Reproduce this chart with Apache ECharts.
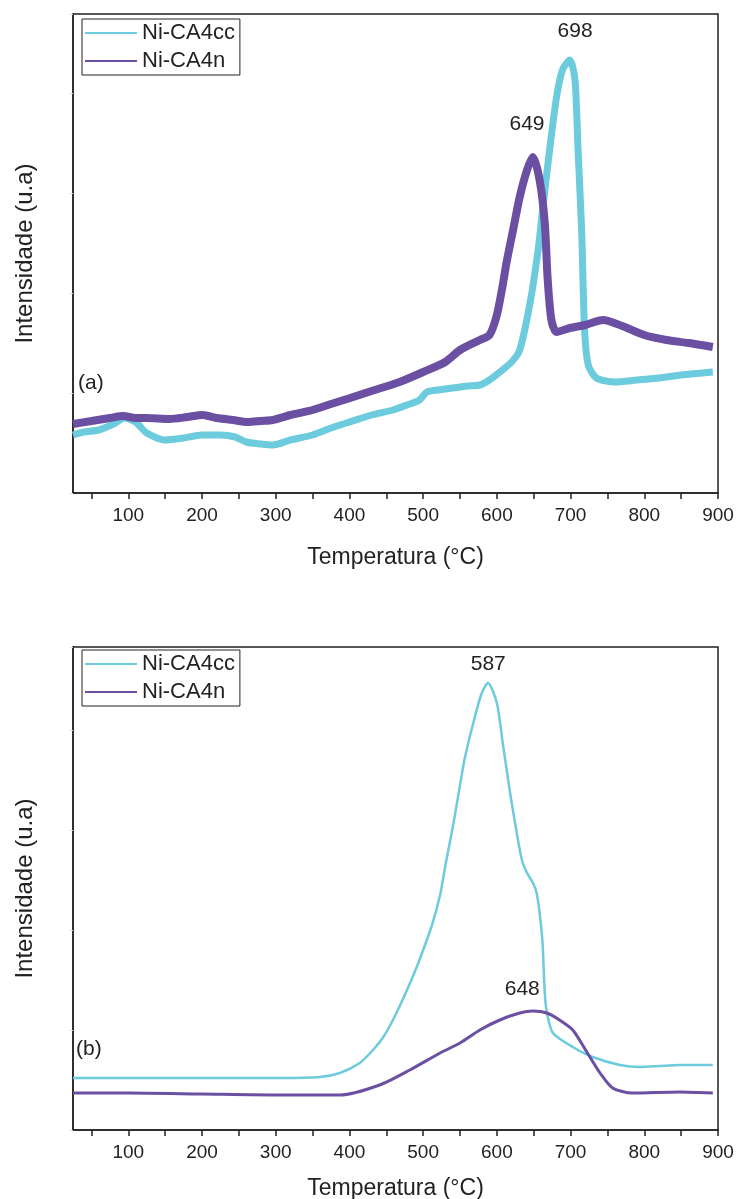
<!DOCTYPE html>
<html>
<head>
<meta charset="utf-8">
<script src="https://cdn.jsdelivr.net/npm/echarts@6/dist/echarts.min.js"></script>
<style>
html,body{margin:0;padding:0;background:#fff;}
#chart{width:737px;height:1199px;}
</style>
</head>
<body>
<div id="chart"></div>
<script>
// ---------- DATA (arbitrary intensity units) ----------
const seriesNames = ['Ni-CA4cc', 'Ni-CA4n'];
const xTickLabels = [100, 200, 300, 400, 500, 600, 700, 800, 900];
const xMinorTicks = [50, 150, 250, 350, 450, 550, 650, 750, 850];

// panel (a)
const aCC = [[25,58],[40,61],[60,63],[80,69],[95,75],[110,71],[125,60],[150,53],[175,55],[200,58],[225,58],[245,56],[260,51],[280,49],[296,48],[320,53],[350,58],[375,65],[400,71],[430,78],[459,83],[478,88],[495,93],[505,101],[520,103],[540,105],[560,107],[577,108],[590,113],[604,121],[620,131],[631,143],[645,190],[656,243],[662,283],[672,346],[681,396],[689,423],[699,433],[706,413],[710,346],[715,263],[719,163],[724,128],[735,115],[760,111],[790,113],[820,115],[850,118],[893,121]];
const aN = [[25,69],[50,72],[75,75],[93,77],[110,75],[125,75],[156,74],[180,76],[201,78],[220,75],[242,73],[261,71],[280,72],[296,73],[320,78],[350,83],[375,89],[401,95],[430,102],[468,111],[500,121],[530,131],[550,143],[577,153],[590,158],[600,178],[608,208],[613,230],[622,263],[631,296],[641,323],[649,336],[658,313],[665,270],[669,213],[674,173],[681,161],[699,165],[720,168],[744,173],[770,167],[800,158],[830,153],[860,150],[893,146]];
const aPeaks = [[698,433],[649,336]];

// panel (b)
const bCC = [[25,52],[100,52],[200,52],[306,52],[360,53],[387,57],[414,67],[432,80],[446,93],[459,110],[472,130],[484,150],[495,170],[512,205],[523,235],[531,268],[540,302],[548,336],[556,370],[567,404],[579,436],[588,447],[600,427],[608,387],[618,337],[627,297],[634,270],[641,257],[649,247],[654,237],[658,217],[662,187],[665,137],[668,117],[676,97],[703,83],[730,73],[767,65],[794,63],[820,64],[848,65],[893,65]];
const bN = [[25,37],[100,37],[200,36],[306,35],[387,35],[441,45],[482,60],[523,77],[550,87],[577,100],[604,110],[631,117],[649,119],[668,117],[685,110],[703,100],[722,78],[740,57],[757,42],[784,37],[848,38],[893,37]];
const bPeaks = [[587,447],[648,119]];

// ---------- STYLE ----------
const CYAN = '#6ccbdc';
const PURPLE = '#6a4fa2';
const FONT = 'Liberation Sans';
const TXT = '#222';

function xAxisFor(gi, gap){
  return {
    gridIndex: gi, type: 'value', min: 25, max: 900,
    name: 'Temperatura (°C)', nameLocation: 'middle', nameGap: gap,
    nameTextStyle: {fontFamily: FONT, fontSize: 23, color: TXT},
    axisLine: {show: true, onZero: false, lineStyle: {color: '#222', width: 1.5}},
    axisTick: {show: true, inside: false, length: 6, customValues: xTickLabels.concat(xMinorTicks), lineStyle: {color: '#222', width: 1.5}},
    axisLabel: {show: true, customValues: xTickLabels, fontFamily: FONT, fontSize: 19, color: TXT, margin: 13},
    splitLine: {show: false}
  };
}
function yAxisFor(gi, max){
  return {
    gridIndex: gi, type: 'value', min: 0, max: max,
    name: 'Intensidade (u.a)', nameLocation: 'middle', nameGap: 36,
    nameTextStyle: {fontFamily: FONT, fontSize: 24, color: TXT},
    axisLine: {show: true, lineStyle: {color: '#222', width: 1.5}},
    axisTick: {show: true, inside: false, length: 3, lineStyle: {color: '#e2e2e2'}},
    axisLabel: {show: false},
    splitLine: {show: false}
  };
}
function peakMarks(peaks, offsets){
  return {
    symbol: 'circle', symbolSize: 1,
    itemStyle: {color: 'transparent'},
    label: {show: true, position: 'top', fontFamily: FONT, fontSize: 21, color: TXT},
    data: peaks.map((p, i) => ({coord: p, value: p[0], label: {formatter: String(p[0]), distance: offsets[i][1], offset: [offsets[i][0], 0]}}))
  };
}
function legendFor(top){
  return {
    orient: 'vertical', left: 82, top: top,
    data: seriesNames,
    icon: 'rect', itemWidth: 52, itemHeight: 2, itemGap: 6,
    padding: [3, 5, 3, 3],
    borderColor: '#222', borderWidth: 1,
    textStyle: {fontFamily: FONT, fontSize: 22, color: TXT},
    selectedMode: false
  };
}

const option = {
  backgroundColor: '#fff',
  animation: false,
  grid: [
    {left: 73, top: 14, width: 645, height: 479, show: true, borderColor: '#222', borderWidth: 1.5, backgroundColor: 'transparent', containLabel: false, outerBoundsMode: 'none'},
    {left: 73, top: 647, width: 645, height: 483, show: true, borderColor: '#222', borderWidth: 1.5, backgroundColor: 'transparent', containLabel: false, outerBoundsMode: 'none'}
  ],
  legend: [legendFor(19), legendFor(650)],
  title: [
    {text: '(a)', left: 78, top: 373, textStyle: {fontFamily: FONT, fontSize: 21, fontWeight: 'normal', color: TXT}, padding: 0},
    {text: '(b)', left: 76, top: 1039, textStyle: {fontFamily: FONT, fontSize: 21, fontWeight: 'normal', color: TXT}, padding: 0}
  ],
  xAxis: [xAxisFor(0, 53), xAxisFor(1, 47)],
  yAxis: [yAxisFor(0, 479), yAxisFor(1, 483)],
  series: [
    {name: seriesNames[0], type: 'line', xAxisIndex: 0, yAxisIndex: 0, data: aCC, showSymbol: false, smooth: 0.25, z: 2,
     lineStyle: {color: CYAN, width: 7}, itemStyle: {color: CYAN},
     markPoint: peakMarks([aPeaks[0]], [[6, 18]])},
    {name: seriesNames[1], type: 'line', xAxisIndex: 0, yAxisIndex: 0, data: aN, showSymbol: false, smooth: 0.25, z: 3,
     lineStyle: {color: PURPLE, width: 8}, itemStyle: {color: PURPLE},
     markPoint: peakMarks([aPeaks[1]], [[-6, 22]])},
    {name: seriesNames[0], type: 'line', xAxisIndex: 1, yAxisIndex: 1, data: bCC, showSymbol: false, smooth: 0.25, z: 2,
     lineStyle: {color: CYAN, width: 2.5}, itemStyle: {color: CYAN},
     markPoint: peakMarks([bPeaks[0]], [[1, 8]])},
    {name: seriesNames[1], type: 'line', xAxisIndex: 1, yAxisIndex: 1, data: bN, showSymbol: false, smooth: 0.25, z: 3,
     lineStyle: {color: PURPLE, width: 3}, itemStyle: {color: PURPLE},
     markPoint: peakMarks([bPeaks[1]], [[-10, 11]])}
  ]
};

const chart = echarts.init(document.getElementById('chart'), null, {renderer: 'canvas'});
chart.setOption(option);
</script>
</body>
</html>
